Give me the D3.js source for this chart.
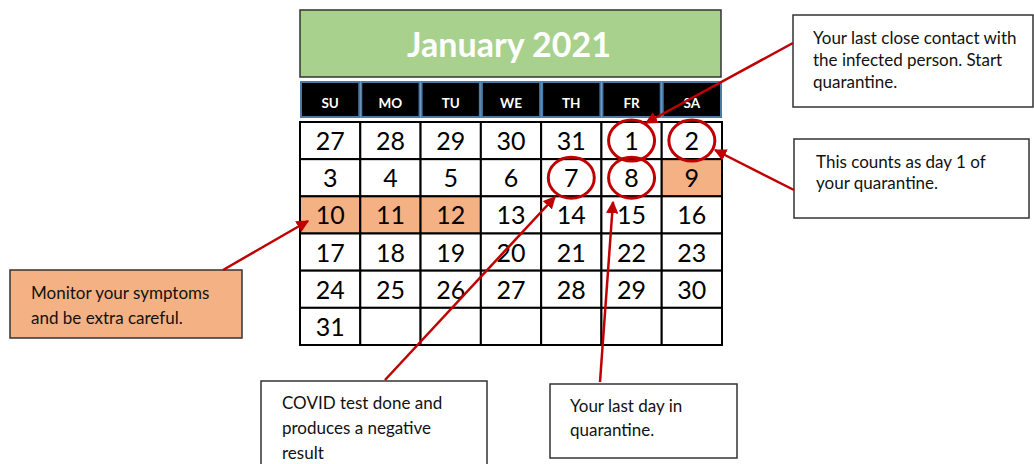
<!DOCTYPE html>
<html>
<head>
<meta charset="utf-8">
<script src="https://cdn.jsdelivr.net/npm/d3@7"></script>
<style>
  html, body { margin: 0; padding: 0; background: #fff; }
  svg { display: block; }
  text { font-family: Lato, "Open Sans", sans-serif; }
</style>
</head>
<body>
<svg id="chart" width="1034" height="464"></svg>
<script>
// ---- data ----
const title = "January 2021";
const weekdays = ["SU", "MO", "TU", "WE", "TH", "FR", "SA"];
const days = [27, 28, 29, 30, 31, 1, 2,
              3, 4, 5, 6, 7, 8, 9,
              10, 11, 12, 13, 14, 15, 16,
              17, 18, 19, 20, 21, 22, 23,
              24, 25, 26, 27, 28, 29, 30,
              31, null, null, null, null, null, null];
const highlightIdx = [13, 14, 15, 16];      // 9, 10, 11, 12
const circledIdx = [5, 6, 11, 12];          // 1, 2, 7, 8
const noteTexts = [
  ["Your last close contact with", "the infected person. Start", "quarantine."],
  ["This counts as day 1 of", "your quarantine."],
  ["Monitor your symptoms", "and be extra careful."],
  ["COVID test done and", "produces a negative", "result"],
  ["Your last day in", "quarantine."]
];

// ---- layout ----
const svg = d3.select("#chart");
const red = "#c00000";
const orange = "#f4b183";
const x = d3.scaleBand().domain(d3.range(7)).range([300, 722]);
const y = d3.scaleBand().domain(d3.range(6)).range([122, 345]);

// title bar
svg.append("rect").attr("x", 300).attr("y", 10).attr("width", 421).attr("height", 67)
  .attr("fill", "#a9d18e").attr("stroke", "#333").attr("stroke-width", 1.5);
svg.append("text").attr("x", 509).attr("y", 57).attr("text-anchor", "middle")
  .attr("fill", "#fff").attr("font-weight", "bold").attr("font-size", 34).text(title);

// weekday header
const hdr = svg.append("g");
hdr.selectAll("rect").data(weekdays).join("rect")
  .attr("x", (d, i) => x(i) + 1).attr("y", 82)
  .attr("width", x.bandwidth() - 2).attr("height", 35)
  .attr("fill", "#000").attr("stroke", "#4a7aa8").attr("stroke-width", 2);
hdr.selectAll("text").data(weekdays).join("text")
  .attr("x", (d, i) => x(i) + x.bandwidth() / 2).attr("y", 108)
  .attr("text-anchor", "middle").attr("fill", "#fff")
  .attr("font-weight", "bold").attr("font-size", 13.5).text(d => d);

// cells
const cells = svg.append("g");
cells.selectAll("rect").data(days).join("rect")
  .attr("x", (d, i) => x(i % 7)).attr("y", (d, i) => y(Math.floor(i / 7)))
  .attr("width", x.bandwidth()).attr("height", y.bandwidth())
  .attr("fill", (d, i) => highlightIdx.includes(i) ? orange : "#fff")
  .attr("stroke", "#000").attr("stroke-width", 2);
cells.selectAll("text").data(days).join("text")
  .attr("x", (d, i) => x(i % 7) + x.bandwidth() / 2)
  .attr("y", (d, i) => y(Math.floor(i / 7)) + 28)
  .attr("text-anchor", "middle").attr("fill", "#000").attr("font-size", 25)
  .text(d => d == null ? "" : d);

// circles
svg.append("g").selectAll("ellipse").data(circledIdx).join("ellipse")
  .attr("cx", i => x(i % 7) + x.bandwidth() / 2)
  .attr("cy", i => y(Math.floor(i / 7)) + y.bandwidth() / 2)
  .attr("rx", 23).attr("ry", 20.5)
  .attr("fill", "none").attr("stroke", red).attr("stroke-width", 3);

// callout boxes
const boxes = [
  {x: 793, y: 15, w: 240, h: 92, fill: "#fff", tx: 813, ty: 44, lh: 22},
  {x: 794, y: 139, w: 235, h: 79, fill: "#fff", tx: 816, ty: 168, lh: 21},
  {x: 10, y: 270, w: 232, h: 68, fill: orange, tx: 31, ty: 299, lh: 25},
  {x: 261, y: 381, w: 226, h: 90, fill: "#fff", tx: 282, ty: 409, lh: 25},
  {x: 550, y: 384, w: 187, h: 74, fill: "#fff", tx: 570, ty: 412, lh: 24}
];
const bg = svg.append("g").selectAll("g").data(boxes).join("g");
bg.append("rect").attr("x", d => d.x).attr("y", d => d.y)
  .attr("width", d => d.w).attr("height", d => d.h)
  .attr("fill", d => d.fill).attr("stroke", "#333").attr("stroke-width", 1.5);
bg.each(function (d, i) {
  d3.select(this).selectAll("text").data(noteTexts[i]).join("text")
    .attr("x", d.tx).attr("y", (t, j) => d.ty + j * d.lh)
    .attr("font-size", 17).attr("fill", "#111").text(t => t);
});

// arrows
svg.append("defs").append("marker").attr("id", "ah")
  .attr("viewBox", "0 0 10 10").attr("refX", 9).attr("refY", 5)
  .attr("markerWidth", 5).attr("markerHeight", 5).attr("markerUnits", "strokeWidth")
  .attr("orient", "auto")
  .append("path").attr("d", "M0,0 L10,5 L0,10 Z").attr("fill", red);
const arrows = [
  [793, 43, 646, 123],
  [794, 190, 715, 150],
  [223, 270, 308, 221],
  [385, 380, 555, 197],
  [600, 382, 613, 202]
];
svg.append("g").selectAll("line").data(arrows).join("line")
  .attr("x1", d => d[0]).attr("y1", d => d[1]).attr("x2", d => d[2]).attr("y2", d => d[3])
  .attr("stroke", red).attr("stroke-width", 2.5).attr("marker-end", "url(#ah)");
</script>
</body>
</html>
